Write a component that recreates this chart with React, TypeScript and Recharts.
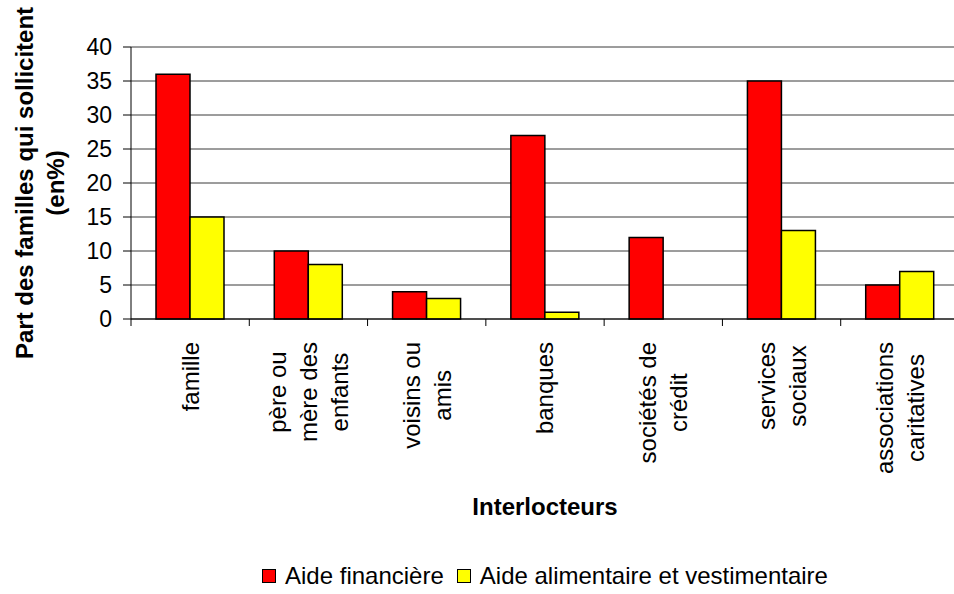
import { BarChart, Bar, XAxis, YAxis, CartesianGrid, Legend } from "recharts"

const categories = [
  "famille",
  "père ou\nmère des\nenfants",
  "voisins ou\namis",
  "banques",
  "sociétés de\ncrédit",
  "services\nsociaux",
  "associations\ncaritatives",
]
const aideFinanciere = [36, 10, 4, 27, 12, 35, 5]
const aideAlimentaire = [15, 8, 3, 1, 0, 13, 7]
const yTicks = [0, 5, 10, 15, 20, 25, 30, 35, 40]
const seriesNames = ["Aide financière", "Aide alimentaire et vestimentaire"]
const seriesColors = ["#ff0000", "#ffff00"]

const data = categories.map((name, i) => ({
  name,
  financiere: aideFinanciere[i],
  alimentaire: aideAlimentaire[i],
}))

const W = 962
const H = 594
const M = { top: 47, right: 3, bottom: 0, left: 0 }
const Y_W = 131
const X_H = 275
const band = (W - M.left - M.right - Y_W) / categories.length
const FONT = "'Liberation Sans', Arial, sans-serif"

let ctx: CanvasRenderingContext2D | null = null
function textWidth(s: string, size: number) {
  if (!ctx) ctx = document.createElement("canvas").getContext("2d")
  if (!ctx) return s.length * size * 0.5
  ctx.font = `${size}px ${FONT}`
  return ctx.measureText(s).width
}

function CategoryTick({ x, y, payload, index }: any) {
  const lines = String(payload.value).split("\n")
  const longest = Math.max(...lines.map((l) => textWidth(l, 24)))
  const cy = y + 23 + longest / 2
  const left = x - band / 2
  const right = x + band / 2
  return (
    <g>
      <line x1={left} y1={y} x2={left} y2={y + 7} stroke="#000" />
      {index === categories.length - 1 && (
        <line x1={right} y1={y} x2={right} y2={y + 7} stroke="#000" />
      )}
      {lines.map((l, i) => {
        const lx = x + (i - (lines.length - 1) / 2) * 31
        return (
          <text
            key={i}
            x={lx}
            y={cy}
            transform={`rotate(-90 ${lx} ${cy})`}
            textAnchor="middle"
            dominantBaseline="central"
            fontSize={24}
            fontFamily={FONT}
            fill="#000"
          >
            {l}
          </text>
        )
      })}
    </g>
  )
}

function YTitle({ viewBox }: any) {
  const cy = viewBox.y + viewBox.height / 2
  const lines = ["Part des familles qui sollicitent", "(en%)"]
  return (
    <g>
      {lines.map((l, i) => {
        const lx = 24 + i * 31
        return (
          <text
            key={i}
            x={lx}
            y={cy}
            transform={`rotate(-90 ${lx} ${cy})`}
            textAnchor="middle"
            dominantBaseline="central"
            fontSize={24}
            fontWeight="bold"
            fontFamily={FONT}
            fill="#000"
          >
            {l}
          </text>
        )
      })}
    </g>
  )
}

function XTitle({ viewBox }: any) {
  return (
    <text
      x={viewBox.x + viewBox.width / 2}
      y={viewBox.y + 196}
      textAnchor="middle"
      fontSize={24}
      fontWeight="bold"
      fontFamily={FONT}
      fill="#000"
    >
      Interlocteurs
    </text>
  )
}

function LegendBox() {
  return (
    <div
      style={{
        display: "flex",
        justifyContent: "center",
        alignItems: "center",
        fontFamily: FONT,
        fontSize: 24,
        color: "#000",
        whiteSpace: "nowrap",
      }}
    >
      {seriesNames.map((n, i) => (
        <div key={n} style={{ display: "flex", alignItems: "center", marginRight: i === 0 ? 13 : 0 }}>
          <span
            style={{
              display: "inline-block",
              width: 12,
              height: 12,
              background: seriesColors[i],
              border: "1px solid #000",
              marginRight: 9,
            }}
          />
          <span>{n}</span>
        </div>
      ))}
    </div>
  )
}

export default function App() {
  return (
    <div
      style={{
        position: "absolute",
        left: 0,
        top: 0,
        width: 954,
        height: 594,
        overflow: "hidden",
        background: "#fff",
      }}
    >
      <BarChart width={W} height={H} data={data} margin={M} barGap={0} barSize={34}>
        <CartesianGrid vertical={false} stroke="#3a3a3a" strokeWidth={1} />
        <XAxis
          dataKey="name"
          interval={0}
          height={X_H}
          axisLine={{ stroke: "#000", strokeWidth: 1 }}
          tickLine={false}
          tickSize={0}
          tickMargin={0}
          tick={<CategoryTick />}
          label={{ content: (p: any) => <XTitle {...p} /> }}
        />
        <YAxis
          width={Y_W}
          domain={[0, 40]}
          ticks={yTicks}
          interval={0}
          axisLine={{ stroke: "#000", strokeWidth: 1 }}
          tickLine={{ stroke: "#000" }}
          tickSize={8}
          tickMargin={11}
          tick={{ fill: "#000", fontSize: 23, fontFamily: FONT }}
          label={{ content: (p: any) => <YTitle {...p} /> }}
        />
        <Legend
          layout="horizontal"
          verticalAlign="middle"
          align="center"
          content={() => <LegendBox />}
          wrapperStyle={{ top: 562, left: 131, width: 828 }}
        />
        <Bar
          dataKey="financiere"
          name={seriesNames[0]}
          fill={seriesColors[0]}
          stroke="#000"
          strokeWidth={1.5}
          isAnimationActive={false}
        />
        <Bar
          dataKey="alimentaire"
          name={seriesNames[1]}
          fill={seriesColors[1]}
          stroke="#000"
          strokeWidth={1.5}
          isAnimationActive={false}
        />
      </BarChart>
    </div>
  )
}
